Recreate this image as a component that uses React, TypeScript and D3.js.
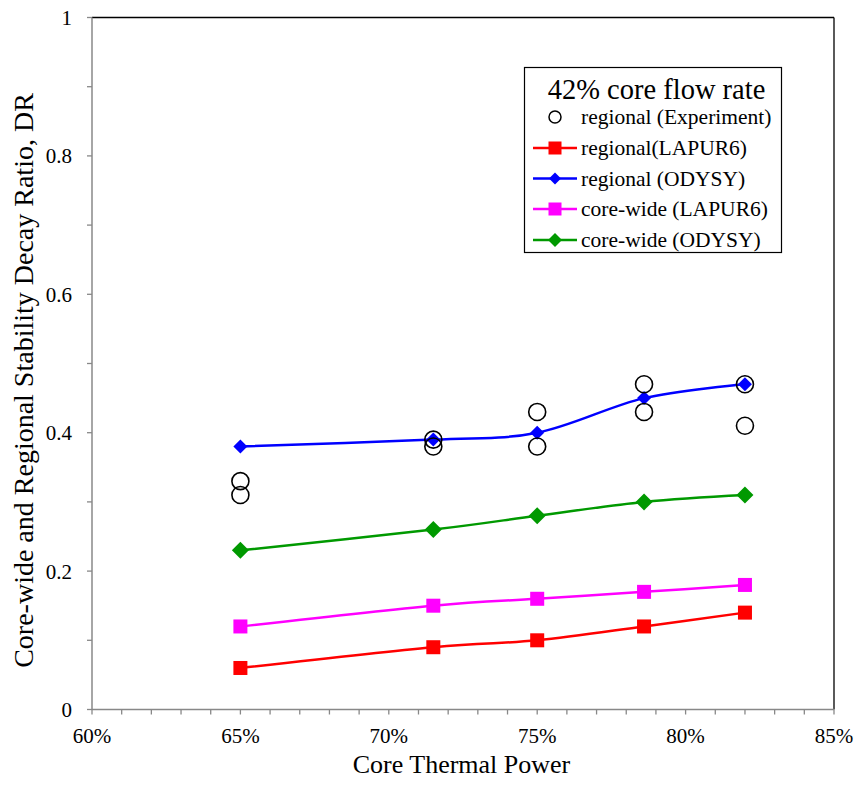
import React from "react";
import * as d3 from "d3";

const xPower = [65, 71.5, 75, 78.6, 82];
const regionalLapur = [0.06, 0.09, 0.10, 0.12, 0.14];
const regionalOdysy = [0.38, 0.39, 0.40, 0.45, 0.47];
const coreLapur = [0.12, 0.15, 0.16, 0.17, 0.18];
const coreOdysy = [0.23, 0.26, 0.28, 0.30, 0.31];
const expX = [65, 65, 71.5, 71.5, 75, 75, 78.6, 78.6, 82, 82];
const expY = [0.33, 0.31, 0.39, 0.38, 0.43, 0.38, 0.47, 0.43, 0.47, 0.41];
const xTicks = [60, 65, 70, 75, 80, 85];
const yTicks = [0, 0.2, 0.4, 0.6, 0.8, 1];

const legendTitle = "42% core flow rate";
const legendLabels = [
  "regional (Experiment)",
  "regional(LAPUR6)",
  "regional (ODYSY)",
  "core-wide (LAPUR6)",
  "core-wide (ODYSY)",
];

const FONT = "'Liberation Serif', 'Times New Roman', serif";

export default function App() {
  const W = 857, H = 785;
  const left = 92, right = 834, top = 17.5, bottom = 709.5;
  const x = d3.scaleLinear().domain([60, 85]).range([left, right]);
  const y = d3.scaleLinear().domain([0, 1]).range([bottom, top]);
  const line = d3
    .line<[number, number]>()
    .x((d) => x(d[0]))
    .y((d) => y(d[1]))
    .curve(d3.curveCardinal.tension(0));
  const pts = (vals: number[]) => xPower.map((v, i) => [v, vals[i]] as [number, number]);

  const square = (cx: number, cy: number, s: number, fill: string, key?: any) => (
    <rect key={key} x={cx - s / 2} y={cy - s / 2} width={s} height={s} fill={fill} />
  );
  const diamond = (cx: number, cy: number, s: number, fill: string, key?: any) => (
    <path
      key={key}
      d={`M${cx},${cy - s / 2}L${cx + s / 2},${cy}L${cx},${cy + s / 2}L${cx - s / 2},${cy}Z`}
      fill={fill}
    />
  );

  const series = [
    { vals: regionalLapur, color: "#ff0000", marker: "square", size: 14 },
    { vals: regionalOdysy, color: "#0000ff", marker: "diamond", size: 14 },
    { vals: coreLapur, color: "#ff00ff", marker: "square", size: 14 },
    { vals: coreOdysy, color: "#009900", marker: "diamond", size: 17 },
  ];
  const order = [0, 2, 3, 1];

  const xMinor = d3.range(60, 85.01, 1);
  const yMinor = d3.range(0, 1.001, 0.1);

  const legX = 524.5, legY = 67.5, legW = 257, legH = 185;
  const rowY = [117, 148, 178.5, 209, 240];

  return (
    <svg width={W} height={H} style={{ display: "block", position: "absolute", left: 0, top: 0 }} fontFamily={FONT}>
      <rect x={0} y={0} width={W} height={H} fill="#fff" />
      <line x1={left} x2={right} y1={top} y2={top} stroke="#000" strokeWidth={1.3} />
      <line x1={right} x2={right} y1={top} y2={bottom} stroke="#000" strokeWidth={1.3} />
      <line x1={left} x2={left} y1={top} y2={bottom} stroke="#888" strokeWidth={1.5} />
      <line x1={left} x2={right} y1={bottom} y2={bottom} stroke="#888" strokeWidth={1.5} />
      {xMinor.map((v, i) => (
        <line key={"xt" + i} x1={x(v)} x2={x(v)} y1={bottom} y2={bottom + 5} stroke="#888" strokeWidth={1.3} />
      ))}
      {yMinor.map((v, i) => (
        <line key={"yt" + i} x1={left - 5} x2={left} y1={y(v)} y2={y(v)} stroke="#888" strokeWidth={1.3} />
      ))}
      {xTicks.map((v) => (
        <text key={"xl" + v} x={x(v)} y={743} textAnchor="middle" fontSize={21}>
          {v + "%"}
        </text>
      ))}
      {yTicks.map((v) => (
        <text key={"yl" + v} x={72} y={y(v) + 7.5} textAnchor="end" fontSize={21}>
          {v === 0 ? "0" : v === 1 ? "1" : v.toFixed(1)}
        </text>
      ))}
      <text x={461.5} y={773} textAnchor="middle" fontSize={26}>
        Core Thermal Power
      </text>
      <text transform={`translate(33, 380.5) rotate(-90)`} textAnchor="middle" fontSize={28}>
        Core-wide and Regional Stability Decay Ratio, DR
      </text>

      {order.map((si) => {
        const s = series[si];
        return <path key={"l" + si} d={line(pts(s.vals)) || ""} fill="none" stroke={s.color} strokeWidth={2.5} />;
      })}
      {order.map((si) => {
        const s = series[si];
        return (
          <g key={"m" + si}>
            {xPower.map((v, i) =>
              s.marker === "square"
                ? square(x(v), y(s.vals[i]), s.size, s.color, i)
                : diamond(x(v), y(s.vals[i]), s.size, s.color, i)
            )}
          </g>
        );
      })}
      {expX.map((v, i) => (
        <circle key={"c" + i} cx={x(v)} cy={y(expY[i])} r={8.5} fill="none" stroke="#000" strokeWidth={1.6} />
      ))}

      <rect x={legX} y={legY} width={legW} height={legH} fill="#fff" stroke="#000" strokeWidth={1.2} />
      <text x={656.5} y={99} textAnchor="middle" fontSize={28.5}>
        {legendTitle}
      </text>
      <circle cx={555} cy={rowY[0]} r={6} fill="none" stroke="#000" strokeWidth={1.5} />
      {[1, 2, 3, 4].map((ri) => {
        const s = series[ri - 1];
        return (
          <g key={"lg" + ri}>
            <line x1={533} x2={577} y1={rowY[ri]} y2={rowY[ri]} stroke={s.color} strokeWidth={2.5} />
            {s.marker === "square"
              ? square(555, rowY[ri], 13, s.color)
              : diamond(555, rowY[ri], s.size === 17 ? 14 : 12, s.color)}
          </g>
        );
      })}
      {legendLabels.map((t, i) => (
        <text key={"lt" + i} x={581} y={rowY[i] + 7} fontSize={21.5}>
          {t}
        </text>
      ))}
    </svg>
  );
}
